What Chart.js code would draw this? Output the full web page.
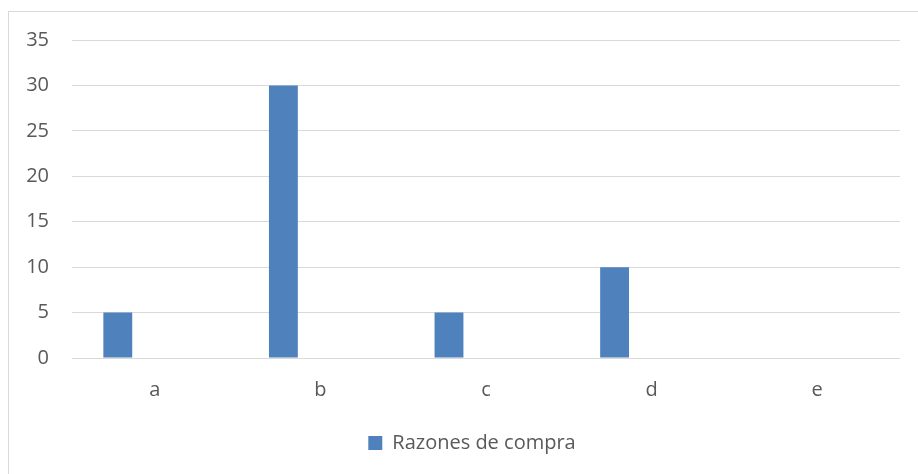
<!DOCTYPE html>
<html>
<head>
<meta charset="utf-8">
<script src="https://cdn.jsdelivr.net/npm/chart.js@4"></script>
<style>
  html, body { margin: 0; padding: 0; background: #ffffff; overflow: hidden; }
  #wrap { position: relative; width: 918px; height: 474px; }
  #frame { position: absolute; left: 8px; top: 11px; width: 1000px; height: 1000px; border: 1px solid #d9d9d9; box-sizing: border-box; }
  canvas { position: absolute; left: 0; top: 0; }
</style>
</head>
<body>
<div id="wrap">
  <div id="frame"></div>
  <canvas id="c" width="918" height="474"></canvas>
</div>
<script>
const categories = ['a', 'b', 'c', 'd', 'e'];
const seriesName = 'Razones de compra';
const seriesValues = [5, 30, 5, 10, 0];
const emptySeries = [null, null, null, null, null];
const yTicks = [0, 5, 10, 15, 20, 25, 30, 35];

const textColor = '#595959';
const gridColor = '#d9d9d9';
const fontFamily = "'Open Sans', 'Liberation Sans', sans-serif";

const legendShift = {
  id: 'legendShift',
  afterLayout(chart) {
    if (chart.legend) { chart.legend.left = 44; }
  }
};

new Chart(document.getElementById('c'), {
  type: 'bar',
  data: {
    labels: categories,
    datasets: [
      {
        label: seriesName,
        data: seriesValues,
        backgroundColor: '#4f81bd',
        borderWidth: 0,
        categoryPercentage: 0.894,
        barPercentage: 0.39
      },
      {
        label: '',
        data: emptySeries,
        backgroundColor: '#c0504d',
        borderWidth: 0,
        categoryPercentage: 0.894,
        barPercentage: 0.39
      }
    ]
  },
  plugins: [legendShift],
  options: {
    responsive: false,
    animation: false,
    devicePixelRatio: 1,
    layout: { padding: { left: 0, right: 18, top: 40, bottom: 11 } },
    plugins: {
      tooltip: { enabled: false },
      legend: {
        position: 'bottom',
        labels: {
          color: textColor,
          font: { family: fontFamily, size: 20 },
          boxWidth: 14,
          boxHeight: 14,
          padding: 10,
          filter: (item) => item.text !== ''
        }
      }
    },
    scales: {
      x: {
        grid: { display: false, drawTicks: false },
        border: { display: false },
        ticks: { color: textColor, font: { family: fontFamily, size: 20 }, padding: 20 },
        afterFit: (s) => { s.height = 65; }
      },
      y: {
        min: 0,
        max: 35,
        afterBuildTicks: (s) => { s.ticks = yTicks.map(v => ({ value: v })); },
        grid: { color: gridColor, lineWidth: 1, drawTicks: false },
        border: { display: false },
        ticks: { color: textColor, font: { family: fontFamily, size: 20 }, padding: 23, stepSize: 5 },
        afterFit: (s) => { s.width = 72; }
      }
    }
  }
});
</script>
</body>
</html>
